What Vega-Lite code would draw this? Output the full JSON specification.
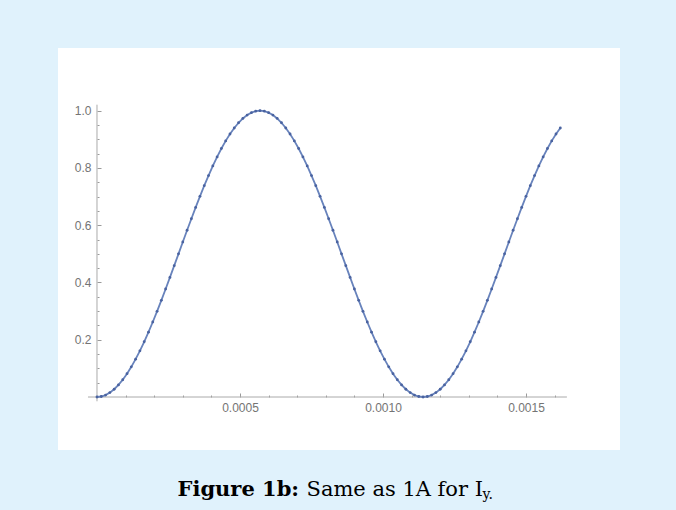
{
  "$schema": "https://vega.github.io/schema/vega-lite/v6.json",
  "width": 562,
  "height": 402,
  "autosize": {"type": "none"},
  "padding": {"left": 58, "top": 48, "right": 56, "bottom": 60},
  "background": "#e0f2fc",
  "config": {
    "view": {"fill": "#ffffff", "stroke": null},
    "axis": {
      "grid": false,
      "labelFont": "Liberation Sans",
      "labelColor": "#747474",
      "labelFontSize": 12,
      "titleFont": "DejaVu Serif",
      "titleColor": "#000000",
      "titleFontSize": 21,
      "titleFontWeight": "normal",
      "titleAngle": 0,
      "titleAlign": "left",
      "titleBaseline": "alphabetic",
      "tickColor": "#9a9a9a",
      "tickWidth": 1
    }
  },
  "datasets": {
    "axislines": [
      {"x": -0.0000315, "x2": 0.001643, "y": 0, "y2": 0},
      {"x": 0, "x2": 0, "y": -0.015, "y2": 1.021}
    ],
    "curve": [
      {"t": 0, "Iy": 0},
      {"t": 0.000015, "Iy": 0.0017},
      {"t": 0.00003, "Iy": 0.0068},
      {"t": 0.000045, "Iy": 0.0153},
      {"t": 0.00006, "Iy": 0.0271},
      {"t": 0.000075, "Iy": 0.0421},
      {"t": 0.00009, "Iy": 0.0603},
      {"t": 0.000105, "Iy": 0.0814},
      {"t": 0.00012, "Iy": 0.1054},
      {"t": 0.000135, "Iy": 0.1321},
      {"t": 0.00015, "Iy": 0.1614},
      {"t": 0.000165, "Iy": 0.1929},
      {"t": 0.00018, "Iy": 0.2265},
      {"t": 0.000195, "Iy": 0.2620},
      {"t": 0.00021, "Iy": 0.2992},
      {"t": 0.000225, "Iy": 0.3377},
      {"t": 0.00024, "Iy": 0.3773},
      {"t": 0.000255, "Iy": 0.4177},
      {"t": 0.00027, "Iy": 0.4587},
      {"t": 0.000285, "Iy": 0.5},
      {"t": 0.0003, "Iy": 0.5413},
      {"t": 0.000315, "Iy": 0.5823},
      {"t": 0.00033, "Iy": 0.6227},
      {"t": 0.000345, "Iy": 0.6623},
      {"t": 0.00036, "Iy": 0.7008},
      {"t": 0.000375, "Iy": 0.7380},
      {"t": 0.00039, "Iy": 0.7735},
      {"t": 0.000405, "Iy": 0.8071},
      {"t": 0.00042, "Iy": 0.8386},
      {"t": 0.000435, "Iy": 0.8679},
      {"t": 0.00045, "Iy": 0.8946},
      {"t": 0.000465, "Iy": 0.9186},
      {"t": 0.00048, "Iy": 0.9397},
      {"t": 0.000495, "Iy": 0.9579},
      {"t": 0.00051, "Iy": 0.9729},
      {"t": 0.000525, "Iy": 0.9847},
      {"t": 0.00054, "Iy": 0.9932},
      {"t": 0.000555, "Iy": 0.9983},
      {"t": 0.00057, "Iy": 1},
      {"t": 0.000585, "Iy": 0.9983},
      {"t": 0.0006, "Iy": 0.9932},
      {"t": 0.000615, "Iy": 0.9847},
      {"t": 0.00063, "Iy": 0.9729},
      {"t": 0.000645, "Iy": 0.9579},
      {"t": 0.00066, "Iy": 0.9397},
      {"t": 0.000675, "Iy": 0.9186},
      {"t": 0.00069, "Iy": 0.8946},
      {"t": 0.000705, "Iy": 0.8679},
      {"t": 0.00072, "Iy": 0.8386},
      {"t": 0.000735, "Iy": 0.8071},
      {"t": 0.00075, "Iy": 0.7735},
      {"t": 0.000765, "Iy": 0.7380},
      {"t": 0.00078, "Iy": 0.7008},
      {"t": 0.000795, "Iy": 0.6623},
      {"t": 0.00081, "Iy": 0.6227},
      {"t": 0.000825, "Iy": 0.5823},
      {"t": 0.00084, "Iy": 0.5413},
      {"t": 0.000855, "Iy": 0.5},
      {"t": 0.00087, "Iy": 0.4587},
      {"t": 0.000885, "Iy": 0.4177},
      {"t": 0.0009, "Iy": 0.3773},
      {"t": 0.000915, "Iy": 0.3377},
      {"t": 0.00093, "Iy": 0.2992},
      {"t": 0.000945, "Iy": 0.2620},
      {"t": 0.00096, "Iy": 0.2265},
      {"t": 0.000975, "Iy": 0.1929},
      {"t": 0.00099, "Iy": 0.1614},
      {"t": 0.001005, "Iy": 0.1321},
      {"t": 0.00102, "Iy": 0.1054},
      {"t": 0.001035, "Iy": 0.0814},
      {"t": 0.00105, "Iy": 0.0603},
      {"t": 0.001065, "Iy": 0.0421},
      {"t": 0.00108, "Iy": 0.0271},
      {"t": 0.001095, "Iy": 0.0153},
      {"t": 0.00111, "Iy": 0.0068},
      {"t": 0.001125, "Iy": 0.0017},
      {"t": 0.00114, "Iy": 0},
      {"t": 0.001155, "Iy": 0.0017},
      {"t": 0.00117, "Iy": 0.0068},
      {"t": 0.001185, "Iy": 0.0153},
      {"t": 0.0012, "Iy": 0.0271},
      {"t": 0.001215, "Iy": 0.0421},
      {"t": 0.00123, "Iy": 0.0603},
      {"t": 0.001245, "Iy": 0.0814},
      {"t": 0.00126, "Iy": 0.1054},
      {"t": 0.001275, "Iy": 0.1321},
      {"t": 0.00129, "Iy": 0.1614},
      {"t": 0.001305, "Iy": 0.1929},
      {"t": 0.00132, "Iy": 0.2265},
      {"t": 0.001335, "Iy": 0.2620},
      {"t": 0.00135, "Iy": 0.2992},
      {"t": 0.001365, "Iy": 0.3377},
      {"t": 0.00138, "Iy": 0.3773},
      {"t": 0.001395, "Iy": 0.4177},
      {"t": 0.00141, "Iy": 0.4587},
      {"t": 0.001425, "Iy": 0.5},
      {"t": 0.00144, "Iy": 0.5413},
      {"t": 0.001455, "Iy": 0.5823},
      {"t": 0.00147, "Iy": 0.6227},
      {"t": 0.001485, "Iy": 0.6623},
      {"t": 0.0015, "Iy": 0.7008},
      {"t": 0.001515, "Iy": 0.7380},
      {"t": 0.00153, "Iy": 0.7735},
      {"t": 0.001545, "Iy": 0.8071},
      {"t": 0.00156, "Iy": 0.8386},
      {"t": 0.001575, "Iy": 0.8679},
      {"t": 0.00159, "Iy": 0.8946},
      {"t": 0.001605, "Iy": 0.9186},
      {"t": 0.00162, "Iy": 0.9397}
    ]
  },
  "layer": [
    {
      "data": {"name": "axislines"},
      "mark": {"type": "rule", "color": "#aaaaaa", "strokeWidth": 1},
      "encoding": {
        "x": {
          "field": "x",
          "type": "quantitative",
          "scale": {"domain": [-0.00013636, 0.00182867], "nice": false, "zero": false},
          "axis": {
            "orient": "top",
            "offset": -349,
            "domain": false,
            "labels": false,
            "ticks": true,
            "values": [0.0001, 0.0002, 0.0003, 0.0004, 0.0005, 0.0006, 0.0007, 0.0008, 0.0009, 0.001, 0.0011, 0.0012, 0.0013, 0.0014, 0.0015, 0.0016],
            "tickSize": {"condition": {"test": "abs(datum.value*2000 - round(datum.value*2000)) < 0.001", "value": 4}, "value": 2},
            "title": "Same as 1A for I",
            "titleX": 248,
            "titleY": 98
          }
        },
        "x2": {"field": "x2"},
        "y": {
          "field": "y",
          "type": "quantitative",
          "scale": {"domain": [-0.18512, 1.219], "nice": false, "zero": false},
          "axis": {
            "orient": "right",
            "offset": -523,
            "domain": false,
            "labels": false,
            "ticks": true,
            "values": [0.05, 0.1, 0.15, 0.2, 0.25, 0.3, 0.35, 0.4, 0.45, 0.5, 0.55, 0.6, 0.65, 0.7, 0.75, 0.8, 0.85, 0.9, 0.95, 1.0],
            "tickSize": {"condition": {"test": "abs(datum.value*5 - round(datum.value*5)) < 0.001", "value": 4}, "value": 2},
            "title": null
          }
        },
        "y2": {"field": "y2"}
      }
    },
    {
      "data": {"name": "curve"},
      "mark": {
        "type": "line",
        "color": "#6883bc",
        "strokeWidth": 1.8,
        "point": {"filled": true, "size": 8, "color": "#4a63a0"}
      },
      "encoding": {
        "x": {
          "field": "t",
          "type": "quantitative",
          "scale": {"domain": [-0.00013636, 0.00182867], "nice": false, "zero": false},
          "axis": {
            "orient": "bottom",
            "offset": -53,
            "domain": false,
            "ticks": false,
            "values": [0.0005, 0.001, 0.0015],
            "format": ".4f",
            "labelPadding": 5,
            "title": "Figure 1b:",
            "titleFontWeight": "bold",
            "titleX": 119,
            "titleY": 98
          }
        },
        "y": {
          "field": "Iy",
          "type": "quantitative",
          "scale": {"domain": [-0.18512, 1.219], "nice": false, "zero": false},
          "axis": {
            "orient": "left",
            "offset": -39,
            "domain": false,
            "ticks": false,
            "values": [0.2, 0.4, 0.6, 0.8, 1.0],
            "format": ".1f",
            "labelPadding": 6,
            "title": "y.",
            "titleFontSize": 14,
            "titleX": 385,
            "titleY": 450
          }
        }
      }
    }
  ],
  "resolve": {"axis": {"x": "independent", "y": "independent"}}
}
